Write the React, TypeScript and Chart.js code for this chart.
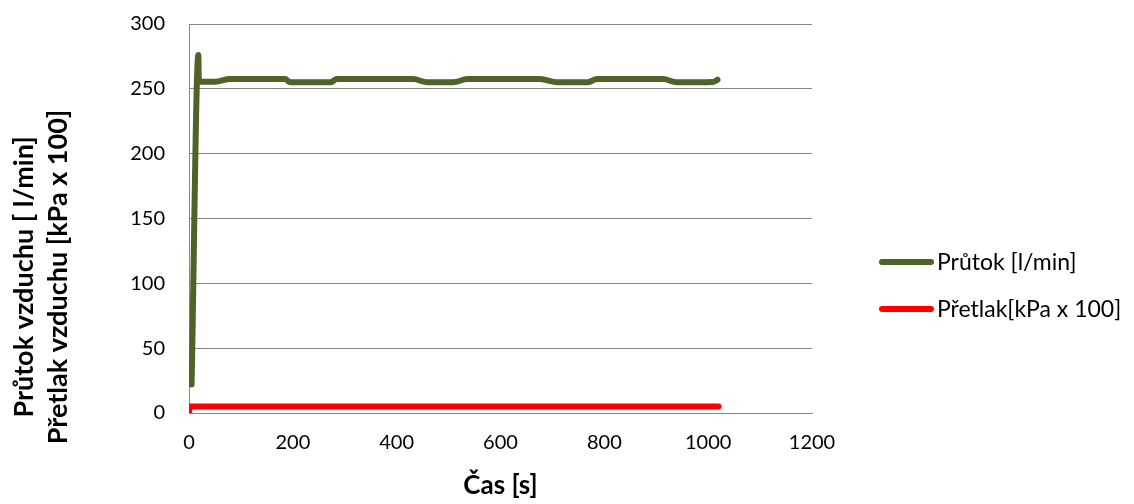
import React, { useEffect, useRef } from 'react';
import { Chart, registerables } from 'chart.js';

Chart.register(...registerables);

// ---- data ----
const flowTimes = [5, 18, 19, 22, 50, 79, 120, 185, 195, 272, 285, 432, 459, 509, 536, 676, 709, 767, 786, 913, 940, 1010, 1018];
const flowValues = [22, 276, 256, 255.5, 255.5, 257.5, 257.5, 257.5, 255, 255, 257.5, 257.5, 255, 255, 257.5, 257.5, 255, 255, 257.5, 257.5, 255, 255.3, 257];

const pressureTimes = [0, 0.5, 200, 400, 600, 800, 1020];
const pressureValues = [0, 5, 5, 5, 5, 5, 5];

const seriesNames = ['Průtok [l/min]', 'Přetlak[kPa x 100]'];
const seriesColors = ['#4F6228', '#FF0000'];
const xTitle = 'Čas [s]';
const yTitleLines = ['Průtok vzduchu [ l/min]', 'Přetlak vzduchu [kPa x 100]'];

const xMin = 0;
const xMax = 1200;
const xStep = 200;
const yMin = 0;
const yMax = 300;
const yStep = 50;

const FONT = 'Lato, "Open Sans", sans-serif';

const W = 1134;
const H = 504;

const overlayPlugin = {
  id: 'overlay',
  afterDraw(chart: any) {
    const ctx = chart.ctx as CanvasRenderingContext2D;
    const area = chart.chartArea;
    ctx.save();
    ctx.fillStyle = '#000';
    // x title
    ctx.font = `bold 26px ${FONT}`;
    ctx.textAlign = 'center';
    ctx.textBaseline = 'alphabetic';
    ctx.fillText(xTitle, (area.left + area.right) / 2, 494);
    // y titles
    const ys = [33, 67];
    ctx.font = `bold 27px ${FONT}`;
    yTitleLines.forEach((t, i) => {
      ctx.save();
      ctx.translate(ys[i], 277);
      ctx.rotate(-Math.PI / 2);
      ctx.textAlign = 'center';
      ctx.textBaseline = 'alphabetic';
      ctx.fillText(t, 0, 0);
      ctx.restore();
    });
    // legend
    const ly = [262, 309];
    seriesNames.forEach((name, i) => {
      ctx.strokeStyle = seriesColors[i];
      ctx.lineWidth = 6;
      ctx.lineCap = 'round';
      ctx.beginPath();
      ctx.moveTo(882, ly[i]);
      ctx.lineTo(931, ly[i]);
      ctx.stroke();
      ctx.font = `23px ${FONT}`;
      ctx.textAlign = 'left';
      ctx.textBaseline = 'alphabetic';
      ctx.fillStyle = '#000';
      ctx.fillText(name, 937, ly[i] + 8);
    });
    ctx.restore();
  },
};

export default function App() {
  const ref = useRef<HTMLCanvasElement | null>(null);
  useEffect(() => {
    document.body.style.margin = '0';
    if (!ref.current) return;
    const chart = new Chart(ref.current, {
      type: 'line',
      data: {
        datasets: [
          {
            label: seriesNames[0],
            data: flowTimes.map((t, i) => ({ x: t, y: flowValues[i] })),
            borderColor: seriesColors[0],
            backgroundColor: seriesColors[0],
            borderWidth: 6,
            pointRadius: 0,
            cubicInterpolationMode: 'monotone',
            borderCapStyle: 'round',
            borderJoinStyle: 'round',
          },
          {
            label: seriesNames[1],
            data: pressureTimes.map((t, i) => ({ x: t, y: pressureValues[i] })),
            borderColor: seriesColors[1],
            backgroundColor: seriesColors[1],
            borderWidth: 6,
            pointRadius: 0,
            borderCapStyle: 'round',
            borderJoinStyle: 'round',
          },
        ],
      },
      options: {
        animation: false,
        responsive: false,
        maintainAspectRatio: false,
        layout: { padding: { top: 24, right: W - 812, left: 0, bottom: 0 } },
        plugins: { legend: { display: false }, tooltip: { enabled: false } },
        scales: {
          x: {
            type: 'linear',
            min: xMin,
            max: xMax,
            ticks: {
              stepSize: xStep,
              color: '#000',
              font: { family: FONT, size: 20 },
              padding: 18,
              maxRotation: 0,
              callback: (v: any) => String(v),
            },
            grid: { display: false, drawTicks: false },
            border: { display: true, color: '#868686', width: 1 },
            afterFit: (s: any) => { s.height = H - 413; s.paddingLeft = 0; s.paddingRight = 0; },
          },
          y: {
            type: 'linear',
            min: yMin,
            max: yMax,
            ticks: {
              stepSize: yStep,
              color: '#000',
              font: { family: FONT, size: 20 },
              padding: 24,
              callback: (v: any) => String(v),
            },
            grid: { color: '#868686', lineWidth: 1, drawTicks: false },
            border: { display: true, color: '#868686', width: 1 },
            afterFit: (s: any) => { s.width = 189; s.paddingTop = 0; s.paddingBottom = 0; },
          },
        },
      },
      plugins: [overlayPlugin],
    });
    return () => chart.destroy();
  }, []);
  return (
    <div style={{ position: 'relative', width: W, height: H }}>
      <canvas ref={ref} width={W} height={H} style={{ display: 'block', width: W, height: H }} />
    </div>
  );
}
